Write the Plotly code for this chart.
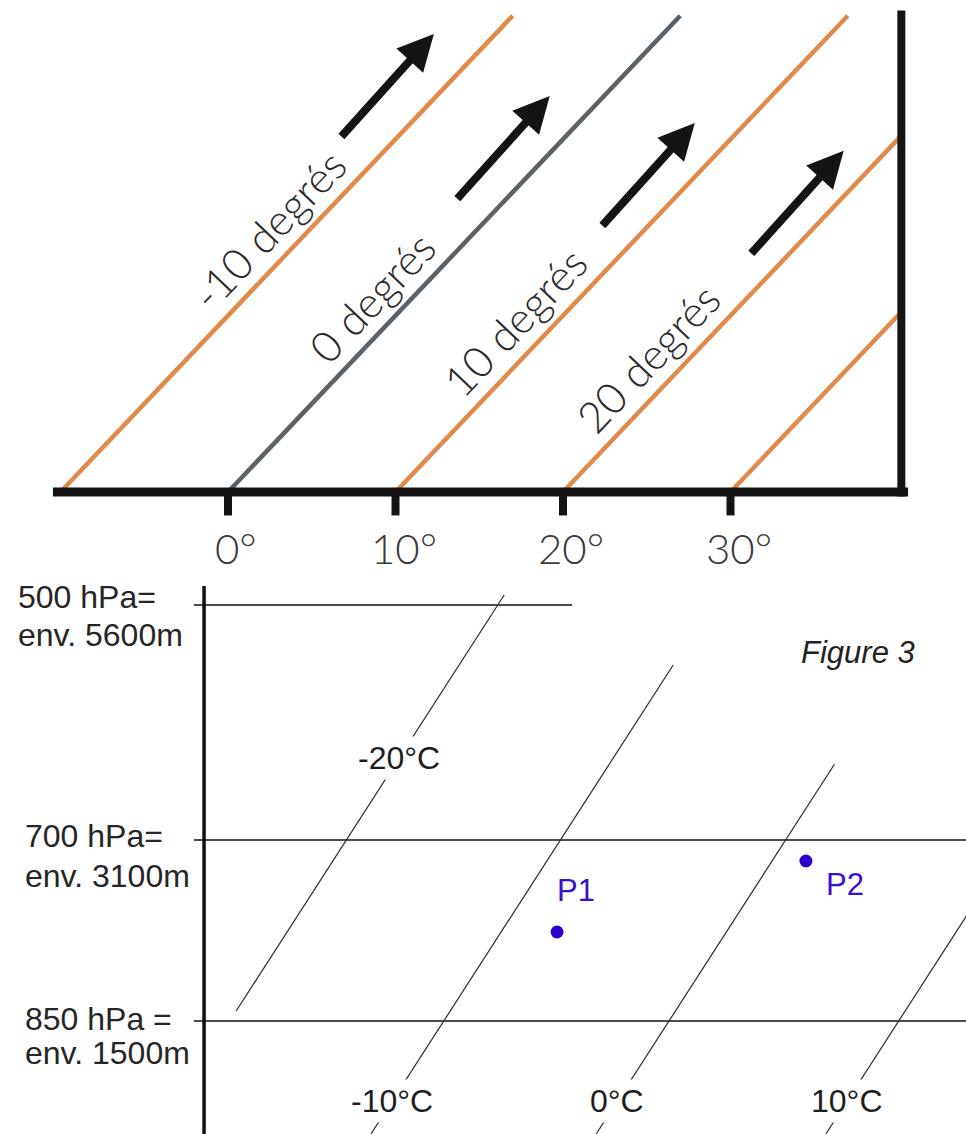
import plotly.graph_objects as go

# ---------------- top panel data (temperature in °, height in diagram units) ----------------
top_isotherms = [-10, 0, 10, 20, 30]
top_iso_colors = ["#E08A4C", "#5B6369", "#E08A4C", "#E08A4C", "#E08A4C"]
top_line_top_h = 27.0
top_border_T = 40.2
top_border_top_h = 27.3
top_baseline_T = [-10.45, 40.6]
top_tick_values = [0, 10, 20, 30]
top_tick_labels = ["0°", "10°", "20°", "30°"]
top_label_texts = ["-10 degrés", "0 degrés", "10 degrés", "20 degrés"]
top_label_iso = [-10, 0, 10, 20]
top_label_h = [14.9, 11.05, 9.64, 7.6]
top_label_offset = -2.5
arrow_tail_T = [6.69, 13.61, 22.27, 31.16]
arrow_tail_h = [20.07, 16.55, 15.02, 13.44]
arrow_dT = 5.6
arrow_dh = 5.9

# ---------------- bottom panel data (x: °C at 850 hPa, z: diagram height) ----------------
levels_hpa = [500, 700, 850]
level_alt_m = [5600, 3100, 1500]
level_z = [416, 181, 0]
level_label_1 = ["500 hPa=", "700 hPa=", "850 hPa ="]
level_label_2 = ["env. 5600m", "env. 3100m", "env. 1500m"]
level_label_x = [-29.3, -28.95, -28.95]
level_label_z1 = [424, 185, 2]
level_label_z2 = [386, 145, -32]
level_line_start = -21.3
level_line_end = [-4.35, 13.4, 13.4]
axis_T = -20.85
axis_top_z = 435
iso_T = [-20, -10, 0, 10]
iso_labels = ["-20°C", "-10°C", "0°C", "10°C"]
iso_base = [-19.7, -10.1, 0.0, 10.3]
iso_top_z = [426, 356, 257, 110]
iso_bot_z = [10, -113, -113, -113]
iso_label_z = [263, -80, -80, -80]
skew = 0.0289
point_names = ["P1", "P2"]
point_T = [-5.02, 6.14]
point_z = [89, 160]
point_label_T = [-4.17, 7.89]
point_label_z = [131, 137]

# ---------------- layout scales ----------------
W, H = 966, 1134
SPLIT = 575  # pixel row separating the two panels
TOP_X0, TOP_SX, TOP_Y0, TOP_SY = 228.0, 16.75, 492.0, 17.64
BOT_X0, BOT_SX, BOT_Y0 = 669.0, 22.3, 1021.0

fig = go.Figure()


def top_line(xs, ys, color, width):
    fig.add_trace(go.Scatter(x=xs, y=ys, mode="lines", xaxis="x", yaxis="y",
                             line=dict(color=color, width=width), hoverinfo="skip",
                             showlegend=False))


def bot_line(xs, ys, color, width):
    fig.add_trace(go.Scatter(x=xs, y=ys, mode="lines", xaxis="x2", yaxis="y2",
                             line=dict(color=color, width=width), hoverinfo="skip",
                             showlegend=False))


# top isotherms
for T, c in zip(top_isotherms, top_iso_colors):
    x1 = min(T + top_line_top_h, top_border_T)
    top_line([T, x1], [0, x1 - T], c, 4.5)

# baseline, border and ticks
top_line(top_baseline_T, [0, 0], "#141414", 9)
top_line([top_border_T, top_border_T], [-0.25, top_border_top_h], "#141414", 8)
for T in top_tick_values:
    top_line([T, T], [0, -1.33], "#141414", 8)

annotations = []
# tick labels
for T, lab in zip(top_tick_values, top_tick_labels):
    annotations.append(dict(x=T + 0.5, y=-3.2, xref="x", yref="y", text=lab, showarrow=False,
                            font=dict(family="Lato", size=42, color="#3a3a3a", weight=300),
                            xanchor="center", yanchor="middle"))
# diagonal labels
for txt, iso, h in zip(top_label_texts, top_label_iso, top_label_h):
    annotations.append(dict(x=iso + h + top_label_offset, y=h, xref="x", yref="y", text=txt,
                            showarrow=False, textangle=-46.5,
                            font=dict(family="Lato", size=43, color="#2a2a2a", weight=300),
                            xanchor="center", yanchor="middle"))
# arrows
for T, h in zip(arrow_tail_T, arrow_tail_h):
    annotations.append(dict(x=T + arrow_dT, y=h + arrow_dh, ax=T, ay=h, xref="x", yref="y",
                            axref="x", ayref="y", text="", showarrow=True, arrowhead=2,
                            arrowsize=0.9, arrowwidth=8, arrowcolor="#141414", standoff=0))

# bottom panel: axis and level lines
bot_line([axis_T, axis_T], [axis_top_z, -200], "#111111", 3.5)
for z, xe in zip(level_z, level_line_end):
    bot_line([level_line_start, xe], [z, z], "#111111", 1.5)

# bottom isotherms
for base, zt, zb in zip(iso_base, iso_top_z, iso_bot_z):
    bot_line([base + skew * zb, base + skew * zt], [zb, zt], "#2a2a2a", 1.2)

# isotherm labels (white box breaks the line)
for base, lab, z in zip(iso_base, iso_labels, iso_label_z):
    annotations.append(dict(x=base + skew * z, y=z, xref="x2", yref="y2", text=lab,
                            showarrow=False, bgcolor="white", borderpad=3,
                            font=dict(family="Liberation Sans", size=32, color="#1e1e1e"),
                            xanchor="center", yanchor="middle"))

# level labels
for x, t1, t2, z1, z2 in zip(level_label_x, level_label_1, level_label_2,
                             level_label_z1, level_label_z2):
    for t, z in ((t1, z1), (t2, z2)):
        annotations.append(dict(x=x, y=z, xref="x2", yref="y2", text=t, showarrow=False,
                                font=dict(family="Liberation Sans", size=32, color="#262626"),
                                xanchor="left", yanchor="middle"))

# points
fig.add_trace(go.Scatter(x=point_T, y=point_z, mode="markers", xaxis="x2", yaxis="y2",
                         marker=dict(color="#2f00cc", size=13), hoverinfo="skip",
                         showlegend=False))
for name, x, z in zip(point_names, point_label_T, point_label_z):
    annotations.append(dict(x=x, y=z, xref="x2", yref="y2", text=name, showarrow=False,
                            font=dict(family="Liberation Sans", size=31, color="#3a10d0"),
                            xanchor="center", yanchor="middle"))

annotations.append(dict(x=8.48, y=369, xref="x2", yref="y2", text="<i>Figure 3</i>",
                        showarrow=False,
                        font=dict(family="Liberation Sans", size=31, color="#222222"),
                        xanchor="center", yanchor="middle"))

split_frac = 1 - SPLIT / H
axis_common = dict(visible=False, showgrid=False, zeroline=False, fixedrange=True)
fig.update_layout(
    width=W, height=H, margin=dict(l=0, r=0, t=0, b=0),
    paper_bgcolor="white", plot_bgcolor="white", showlegend=False,
    xaxis=dict(domain=[0, 1], range=[(0 - TOP_X0) / TOP_SX, (W - TOP_X0) / TOP_SX],
               anchor="y", **axis_common),
    yaxis=dict(domain=[split_frac, 1], range=[(TOP_Y0 - SPLIT) / TOP_SY, TOP_Y0 / TOP_SY],
               anchor="x", **axis_common),
    xaxis2=dict(domain=[0, 1], range=[(0 - BOT_X0) / BOT_SX, (W - BOT_X0) / BOT_SX],
                anchor="y2", **axis_common),
    yaxis2=dict(domain=[0, split_frac], range=[BOT_Y0 - H, BOT_Y0 - SPLIT],
                anchor="x2", **axis_common),
    annotations=annotations,
)

fig.write_html("out.html", config={"displayModeBar": False},
               post_script="document.body.style.margin='0px';")
